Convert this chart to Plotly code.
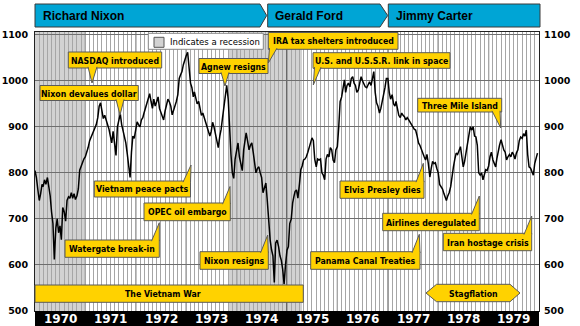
import plotly.graph_objects as go

# ---------------- data ----------------
years = list(range(1970, 1980))
year_labels = [str(y) for y in years]
y_ticks = [500, 600, 700, 800, 900, 1000, 1100]

# Dow Jones Industrial Average, three readings per month (1st, 11th, 21st)
dow_1970 = [805, 790, 765, 740, 755, 775, 770, 785, 775, 790, 770, 750,
            715, 690, 612, 680, 700, 670, 685, 655, 725, 715, 695, 740,
            748, 745, 757, 745, 755, 742, 750, 765, 806, 815, 822, 830]
dow_1971 = [835, 843, 855, 870, 878, 885, 893, 900, 905, 920, 945, 952,
            935, 918, 925, 915, 905, 895, 880, 865, 890, 860, 838, 900,
            915, 928, 905, 893, 880, 865, 840, 812, 790, 845, 880, 875]
dow_1972 = [890, 911, 905, 900, 915, 920, 930, 941, 950, 965, 972, 955,
            940, 960, 945, 955, 965, 940, 930, 920, 915, 935, 950, 960,
            954, 945, 926, 935, 945, 955, 970, 1005, 1013, 1020, 1035, 1046]
dow_1973 = [1055, 1062, 1025, 995, 985, 965, 976, 960, 950, 955, 941, 925,
            930, 920, 911, 900, 890, 880, 890, 910, 900, 885, 870, 855,
            880, 895, 920, 945, 965, 990, 960, 890, 840, 800, 788, 830]
dow_1974 = [850, 865, 835, 820, 805, 850, 870, 887, 870, 850, 860, 865,
            845, 815, 800, 810, 813, 800, 790, 757, 770, 778, 740, 690,
            654, 633, 620, 562, 648, 654, 640, 620, 610, 590, 558, 600]
dow_1975 = [632, 640, 690, 700, 735, 750, 760, 763, 745, 775, 807, 815,
            828, 830, 835, 845, 855, 870, 876, 870, 830, 813, 830, 828,
            830, 800, 795, 785, 830, 840, 835, 855, 850, 828, 822, 850]
dow_1976 = [857, 900, 955, 965, 985, 1002, 975, 990, 995, 987, 1005, 1009,
            995, 990, 975, 980, 995, 1009, 1000, 995, 987, 985, 990, 998,
            990, 1005, 1020, 975, 952, 945, 930, 940, 955, 965, 985, 1005]
dow_1977 = [1005, 975, 960, 970, 950, 945, 955, 940, 925, 920, 930, 925,
            922, 915, 920, 915, 909, 905, 900, 895, 893, 880, 865, 860,
            850, 845, 835, 828, 840, 820, 791, 810, 825, 820, 822, 810]
dow_1978 = [800, 775, 770, 765, 755, 745, 740, 750, 757, 770, 795, 813,
            830, 843, 840, 850, 857, 835, 813, 825, 845, 870, 890, 900,
            893, 900, 880, 878, 860, 800, 795, 800, 785, 800, 807, 805]
dow_1979 = [815, 835, 845, 828, 820, 813, 830, 850, 860, 872, 860, 850,
            845, 828, 835, 840, 835, 845, 840, 830, 843, 850, 870, 878,
            875, 885, 880, 893, 840, 813, 810, 800, 795, 820, 835, 843]

recession_starts = ["1970-01-01", "1973-11-01"]
recession_ends = ["1970-12-28", "1975-04-20"]

presidents = ["Richard Nixon", "Gerald Ford", "Jimmy Carter"]

events = ["NASDAQ introduced", "Nixon devalues dollar", "Agnew resigns",
          "IRA tax shelters introduced", "U.S. and U.S.S.R. link in space",
          "Three Mile Island", "Vietnam peace pacts", "OPEC oil embargo",
          "Watergate break-in", "Nixon resigns", "Elvis Presley dies",
          "Airlines deregulated", "Panama Canal Treaties", "Iran hostage crisis"]

values = (dow_1970 + dow_1971 + dow_1972 + dow_1973 + dow_1974 +
          dow_1975 + dow_1976 + dow_1977 + dow_1978 + dow_1979)
dates = [f"{y}-{m:02d}-{d:02d}" for y in years for m in range(1, 13) for d in (1, 11, 21)]

# ---------------- layout geometry (pixels) ----------------
W, H = 580, 326
L, R, T, B = 35, 41, 32, 15
PW, PH = W - L - R, H - T - B


def px(x):
    return (x - L) / PW


def py(y):
    return (H - B - y) / PH


YELLOW = "#FFD200"
EDGE = "#5a5a5a"
BLUE = "#00A5D5"
NARROW = "DejaVu Sans Condensed, DejaVu Sans, sans-serif"
BOX_FONT = dict(family=NARROW, size=8.7, color="black", weight="bold")

fig = go.Figure()
fig.add_trace(go.Scatter(x=dates, y=values, mode="lines",
                         line=dict(color="black", width=1.5),
                         hoverinfo="skip", showlegend=False))
fig.add_trace(go.Scatter(x=dates[:1], y=values[:1], yaxis="y2", mode="markers",
                         marker=dict(opacity=0), hoverinfo="skip", showlegend=False))

shapes = []
annotations = []

# recessions
for s, e in zip(recession_starts, recession_ends):
    shapes.append(dict(type="rect", xref="x", yref="paper", x0=s, x1=e, y0=0, y1=1,
                       fillcolor="#d2d2d2", line=dict(width=0), layer="below"))
# year lines
for y in years[1:]:
    shapes.append(dict(type="line", xref="x", yref="paper", x0=f"{y}-01-01", x1=f"{y}-01-01",
                       y0=0, y1=1, line=dict(color="black", width=1), layer="between"))

# black year bar
shapes.append(dict(type="rect", xref="paper", yref="paper", x0=0, x1=1,
                   y0=py(326), y1=0, fillcolor="black", line=dict(width=0)))
for y, lab in zip(years, year_labels):
    annotations.append(dict(x=f"{y}-07-02", xref="x", y=py(318.5), yref="paper",
                            text=lab, showarrow=False, xanchor="center", yanchor="middle",
                            font=dict(family="DejaVu Sans", size=12, color="white", weight="bold")))

# president banners
banner_geo = [(35, 260, 266.7), (267.7, 380, 387.7), (388.3, 540, None)]
banner_text_x = [41, 273, 394]
for name, (x0, x1, tip), tx in zip(presidents, banner_geo, banner_text_x):
    if tip is None:
        path = f"M{px(x0)},{py(4)} L{px(x1)},{py(4)} L{px(x1)},{py(27)} L{px(x0)},{py(27)} Z"
    else:
        path = (f"M{px(x0)},{py(4)} L{px(x1)},{py(4)} L{px(tip)},{py(15.5)} "
                f"L{px(x1)},{py(27)} L{px(x0)},{py(27)} Z")
    shapes.append(dict(type="path", xref="paper", yref="paper", path=path,
                       fillcolor=BLUE, line=dict(color="#3a3a3a", width=1)))
    annotations.append(dict(x=px(tx), y=py(16), xref="paper", yref="paper", text=name,
                            showarrow=False, xanchor="left", yanchor="middle",
                            font=dict(family="Liberation Sans, Arial, sans-serif", size=12,
                                      color="black", weight="bold")))

# legend box
shapes.append(dict(type="rect", xref="paper", yref="paper", x0=px(148.3), x1=px(263.3),
                   y0=py(49.3), y1=py(33.3), fillcolor="white", line=dict(color="#888", width=1)))
shapes.append(dict(type="rect", xref="paper", yref="paper", x0=px(154), x1=px(164),
                   y0=py(47.3), y1=py(37.3), fillcolor="#d2d2d2", line=dict(color="#555", width=1)))
annotations.append(dict(x=px(167.5), y=py(41.5), xref="paper", yref="paper",
                        text="Indicates a recession", showarrow=False, xanchor="left",
                        yanchor="middle",
                        font=dict(family=NARROW, size=9.5, color="black")))

# event callouts: box (x0, y0, x1, y1), tail side, tail base x-range, tip
callouts = [
    ((68.3, 52, 161.7, 68), "b", (88, 97), (92, 83)),
    ((40, 85.5, 138.3, 100.5), "b", (116, 124), (120, 115)),
    ((199, 58.5, 268, 73.5), "b", (221, 229), (225, 86)),
    ((268.3, 32.5, 398, 49.3), "b", (269.5, 277), (268.3, 63)),
    ((313, 52.7, 450, 68.3), "b", (314.5, 321), (313.3, 85)),
    ((417.7, 98.3, 501.7, 112), "b", (492, 500), (500.7, 128)),
    ((94.3, 181, 190.5, 197), "t", (183, 190.5), (191, 165)),
    ((144, 203, 230.3, 220.7), "t", (222.5, 230.3), (230, 186.5)),
    ((65, 240, 159.3, 257.3), "t", (151.5, 159.3), (159.3, 222.7)),
    ((200, 251.7, 268.3, 269.3), "t", (260.5, 268.3), (267.7, 235)),
    ((340, 181, 424, 198.3), "t", (416, 424), (423.3, 163.3)),
    ((382.7, 213.3, 479.3, 230.7), "t", (471.5, 479.3), (479.3, 196)),
    ((310.7, 251.7, 420, 269.3), "t", (412, 420), (419.3, 234.3)),
    ((443.3, 233.3, 531.7, 250.7), "t", (524, 531.7), (531.7, 216)),
]
for text, (box, side, (bx1, bx2), (tx, ty)) in zip(events, callouts):
    x0, y0, x1, y1 = box
    shapes.append(dict(type="rect", xref="paper", yref="paper", x0=px(x0), x1=px(x1),
                       y0=py(y1), y1=py(y0), fillcolor=YELLOW, line=dict(color=EDGE, width=1)))
    by = y1 - 1.2 if side == "b" else y0 + 1.2
    path = f"M{px(bx1)},{py(by)} L{px(tx)},{py(ty)} L{px(bx2)},{py(by)}"
    shapes.append(dict(type="path", xref="paper", yref="paper", path=path,
                       fillcolor=YELLOW, line=dict(color=EDGE, width=1)))
    annotations.append(dict(x=px((x0 + x1) / 2), y=py((y0 + y1) / 2 + 0.5), xref="paper",
                            yref="paper", text=text, showarrow=False, xanchor="center",
                            yanchor="middle", font=BOX_FONT))

# Vietnam War bar
shapes.append(dict(type="rect", xref="paper", yref="paper", x0=px(35), x1=px(303.3),
                   y0=py(302.3), y1=py(285), fillcolor=YELLOW, line=dict(color=EDGE, width=1)))
annotations.append(dict(x=px(163), y=py(294), xref="paper", yref="paper", text="The Vietnam War",
                        showarrow=False, xanchor="center", yanchor="middle", font=BOX_FONT))

# Stagflation double arrow
sp = (f"M{px(426)},{py(293)} L{px(436.5)},{py(284.3)} L{px(510)},{py(284.3)} "
      f"L{px(520)},{py(293)} L{px(510)},{py(301.7)} L{px(436.5)},{py(301.7)} Z")
shapes.append(dict(type="path", xref="paper", yref="paper", path=sp,
                   fillcolor=YELLOW, line=dict(color=EDGE, width=1)))
annotations.append(dict(x=px(473), y=py(293.5), xref="paper", yref="paper", text="Stagflation",
                        showarrow=False, xanchor="center", yanchor="middle", font=BOX_FONT))

tickfont = dict(family="DejaVu Sans", size=9.5, color="black", weight="bold")
fig.update_layout(
    width=W, height=H,
    margin=dict(l=L, r=R, t=T, b=B, pad=0, autoexpand=False),
    paper_bgcolor="white", plot_bgcolor="white",
    showlegend=False,
    xaxis=dict(type="date", range=["1970-01-01", "1980-01-01"], showticklabels=False,
               tick0="1970-01-01", dtick="M1", showgrid=True, gridcolor="#a6a6a6",
               gridwidth=1, zeroline=False, showline=True, linecolor="#222",
               linewidth=1, mirror=True, ticks="", automargin=False),
    yaxis=dict(range=[500, 1106], tickvals=y_ticks, ticktext=[str(v) for v in y_ticks],
               showgrid=True, gridcolor="#6e6e6e", gridwidth=1, zeroline=False,
               showline=True, linecolor="#222", linewidth=1, mirror=True, ticks="",
               tickfont=tickfont, ticklabelstandoff=4, automargin=False),
    yaxis2=dict(range=[500, 1106], tickvals=y_ticks, ticktext=[str(v) for v in y_ticks],
                overlaying="y", side="right", showgrid=False, zeroline=False,
                showline=False, ticks="", tickfont=tickfont, ticklabelstandoff=4,
                automargin=False),
    shapes=shapes,
    annotations=annotations,
)

fig.write_html("out.html")
